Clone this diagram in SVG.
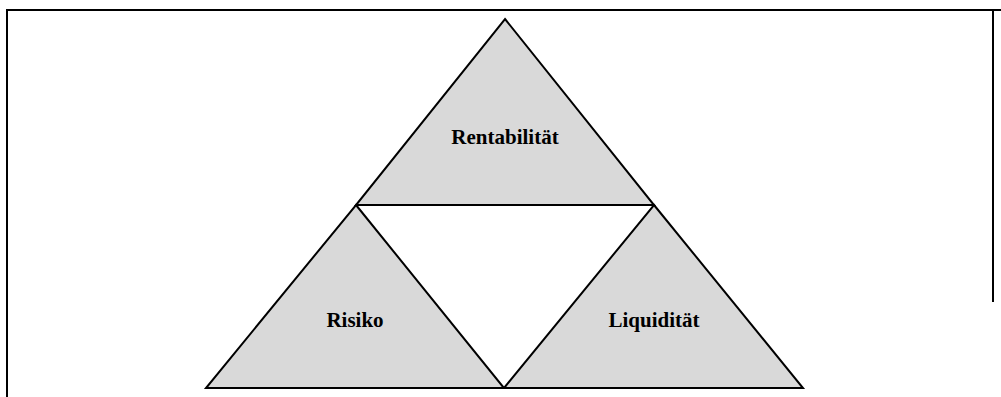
<svg xmlns="http://www.w3.org/2000/svg" width="1001" height="397" viewBox="0 0 1001 397">
<style>
.tri{fill:#d9d9d9;stroke:#000;stroke-width:2;stroke-linejoin:miter}
.frame{stroke:#000;stroke-width:2;fill:none}
.lbl{font-family:"Liberation Serif","Times New Roman",serif;font-weight:bold;font-size:21px;fill:#000;text-anchor:middle}
</style>
<rect width="1001" height="397" fill="#fff"/>
<g id="frame">
<line class="frame" x1="7" y1="10" x2="1001" y2="10"/>
<line class="frame" x1="7" y1="9" x2="7" y2="397"/>
<line class="frame" x1="993" y1="9" x2="993" y2="302"/>
</g>
<g id="top">
<polygon class="tri" points="505,19 654,205 356,205"/>
<text class="lbl" x="505" y="144">Rentabilität</text>
</g>
<g id="left">
<polygon class="tri" points="356,205 504,388 206,388"/>
<text class="lbl" x="355" y="327">Risiko</text>
</g>
<g id="right">
<polygon class="tri" points="654,205 803,388 504,388"/>
<text class="lbl" x="654" y="327">Liquidität</text>
</g>
<g id="connectors"></g>
</svg>
